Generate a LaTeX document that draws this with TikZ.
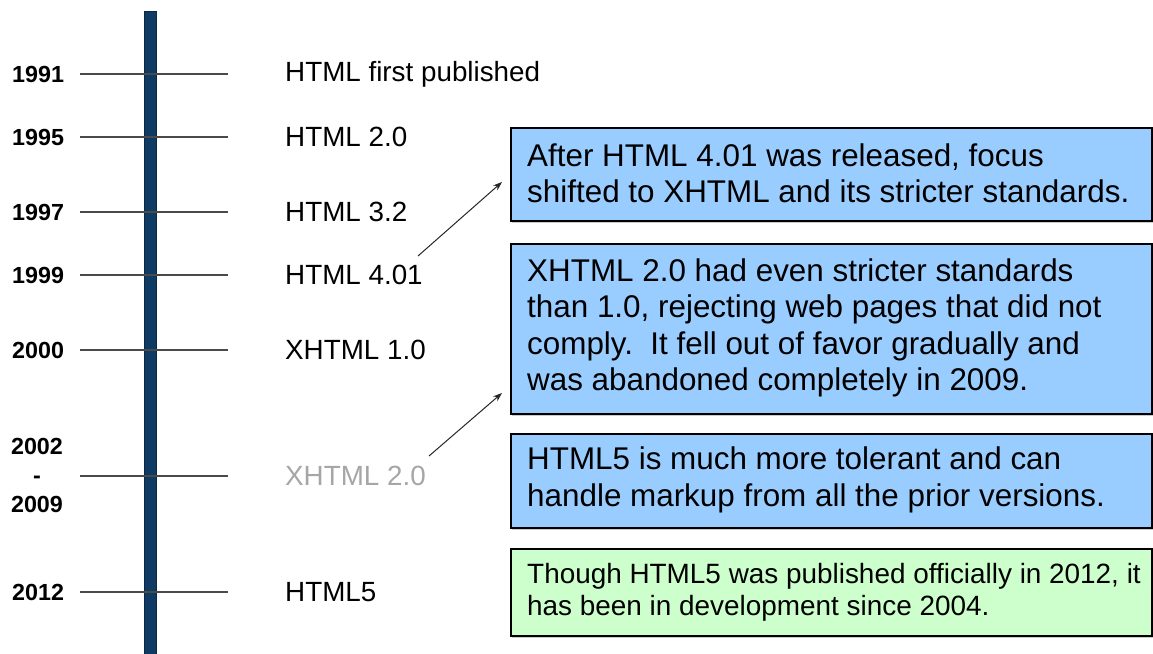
\documentclass[tikz,border=0pt]{standalone}
\usepackage{fontspec}
\setmainfont{Liberation Sans}
\usetikzlibrary{arrows.meta,shadows}
\definecolor{barblue}{HTML}{0E3A64}
\definecolor{barline}{HTML}{0A2846}
\definecolor{boxblue}{HTML}{99CCFF}
\definecolor{boxgreen}{HTML}{CCFFCC}
\definecolor{tickgray}{HTML}{4A4A4A}
\definecolor{fadegray}{HTML}{A6A6A6}
\begin{document}
\begin{tikzpicture}[x=1pt,y=-1pt,
  year/.style={font=\fontsize{23.3}{29}\selectfont\bfseries, anchor=west, inner sep=0pt},
  ver/.style={font=\fontsize{27.8}{32}\selectfont, anchor=west, inner sep=0pt},
  tickline/.style={draw=tickgray, line width=1.3pt},
  boxbase/.style={draw=black, line width=1.8pt, anchor=north west, minimum width=641pt, inner sep=0pt,
    drop shadow={shadow xshift=1.5pt, shadow yshift=-2.5pt, fill=black!35, opacity=0.6}},
  bluebox/.style={boxbase, fill=boxblue},
  greenbox/.style={boxbase, fill=boxgreen},
  notetext/.style={anchor=west, inner sep=0pt, align=left, font=\fontsize{31.4}{36.3}\selectfont},
  smalltext/.style={anchor=west, inner sep=0pt, align=left, font=\fontsize{27.9}{32}\selectfont},
  pointer/.style={draw=black!85, line width=1pt, -{Stealth[length=9pt,width=6.5pt]}}
]
\useasboundingbox (0,0) rectangle (1153,653);

% timeline bar
\node[draw=barline, fill=barblue, line width=0.8pt, anchor=north, minimum width=12pt, minimum height=643pt, inner sep=0pt] (bar) at (150,11) {};

% ticks
\foreach \n/\y in {t91/74, t95/137, t97/212, t99/275, t00/350, t02/476, t12/592}{
  \coordinate (\n l) at (80,\y);
  \coordinate (\n r) at (228,\y);
  \draw[tickline] (\n l) -- (\n r);
}

% years
\node[year] (y91) at (12,74) {1991};
\node[year] (y95) at (12,137) {1995};
\node[year] (y97) at (12,212) {1997};
\node[year] (y99) at (12,275) {1999};
\node[year] (y00) at (12,350) {2000};
\node[year, anchor=center, align=center] (y02) at (37,475) {2002\\-\\2009};
\node[year] (y12) at (12,592) {2012};

% versions
\node[ver] (h1) at (285,74) {HTML first published};
\node[ver] (h2) at (285,137) {HTML 2.0};
\node[ver] (h32) at (285,212) {HTML 3.2};
\node[ver] (h401) at (285,275) {HTML 4.01};
\node[ver] (x1) at (285,350) {XHTML 1.0};
\node[ver, text=fadegray] (x2) at (285,476) {XHTML 2.0};
\node[ver] (h5) at (285,592) {HTML5};

% boxes
\node[bluebox, minimum height=93pt] (b1) at (510,127) {};
\node[notetext] (n1) at ([xshift=17pt,yshift=1pt]b1.west) {After HTML 4.01 was released, focus\\shifted to XHTML and its stricter standards.};
\node[bluebox, minimum height=170pt] (b2) at (510,243) {};
\node[notetext] (n2) at ([xshift=17pt,yshift=1pt]b2.west) {XHTML 2.0 had even stricter standards\\than 1.0, rejecting web pages that did not\\comply.\ \ It fell out of favor gradually and\\was abandoned completely in 2009.};
\node[bluebox, minimum height=94pt] (b3) at (510,433) {};
\node[notetext] (n3) at ([xshift=17pt,yshift=1pt]b3.west) {HTML5 is much more tolerant and can\\handle markup from all the prior versions.};
\node[greenbox, minimum height=87pt] (b4) at (510,548) {};
\node[smalltext] (n4) at ([xshift=17pt]b4.west) {Though HTML5 was published officially in 2012, it\\has been in development since 2004.};

% pointers
\coordinate (p1s) at (418,256);
\coordinate (p1e) at (502,182);
\coordinate (p2s) at (429,456);
\coordinate (p2e) at (502,393);
\draw[pointer] (p1s) -- (p1e);
\draw[pointer] (p2s) -- (p2e);
\end{tikzpicture}
\end{document}
